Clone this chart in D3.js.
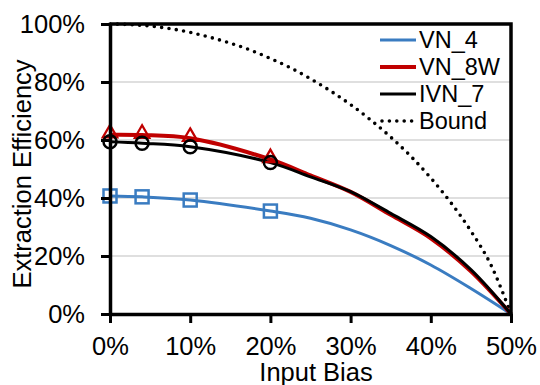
<!DOCTYPE html>
<html>
<head>
<meta charset="utf-8">
<script src="https://cdn.jsdelivr.net/npm/d3@7"></script>
<style>
    body { margin: 0; background: #fff; }
    svg { display: block; font-family: "Liberation Sans", Arial, sans-serif; }
    .axis text { font-size: 25.5px; fill: #000; }
    .axis .domain { stroke: #000; stroke-width: 3.5; }
    .axis .tick line { stroke: #000; stroke-width: 3; }
</style>
</head>
<body>
<script>
// input bias (x) for the curve points
var bias = [0, 0.04, 0.10, 0.20, 0.25, 0.30, 0.35, 0.40, 0.45, 0.50];
// only the first four points carry markers
var markerCount = 4;

var vn4 = [0.407, 0.404, 0.393, 0.355, 0.330, 0.290, 0.236, 0.169, 0.088, 0];
var vn8w = [0.618, 0.617, 0.606, 0.533, 0.478, 0.421, 0.342, 0.261, 0.147, 0];
var ivn7 = [0.594, 0.589, 0.577, 0.522, 0.473, 0.422, 0.347, 0.267, 0.153, 0];

// dotted upper bound
var boundBias = [0, 0.025, 0.05, 0.075, 0.10, 0.125, 0.15, 0.175, 0.20, 0.225, 0.25,
                 0.275, 0.30, 0.325, 0.35, 0.375, 0.40, 0.425, 0.45, 0.475, 0.50];
var bound = [1.0, 0.998, 0.993, 0.984, 0.971, 0.954, 0.934, 0.910, 0.881, 0.849, 0.811,
             0.769, 0.722, 0.669, 0.610, 0.544, 0.469, 0.384, 0.286, 0.169, 0];

var xTicks = [0, 0.1, 0.2, 0.3, 0.4, 0.5];
var yTicks = [0, 0.2, 0.4, 0.6, 0.8, 1.0];
var gridTicks = [0.2, 0.4, 0.6, 0.8];

var seriesNames = ["VN_4", "VN_8W", "IVN_7", "Bound"];
var seriesColors = ["#3a7cc1", "#c00000", "#000000", "#000000"];

window.onload = function () {
    drawChart();
};

function drawChart() {
    var width = 540,
        height = 385,
        left = 110, right = 511, top = 24, bottom = 314;

    var svg = d3.select("body")
        .append("svg")
        .attr("width", width)
        .attr("height", height);

    var x = d3.scaleLinear().domain([0, 0.5]).range([left, right]);
    var y = d3.scaleLinear().domain([0, 1]).range([bottom, top]);

    // gridlines
    svg.selectAll(".grid")
        .data(gridTicks)
        .enter()
        .append("line")
        .attr("x1", left)
        .attr("x2", right)
        .attr("y1", function(d) { return y(d); })
        .attr("y2", function(d) { return y(d); })
        .attr("stroke", "#d4d4d4")
        .attr("stroke-width", 1.5);

    // bound (dotted)
    var boundLine = d3.line()
        .x(function(d, i) { return x(boundBias[i]); })
        .y(function(d) { return y(d); })
        .curve(d3.curveMonotoneX);

    svg.append("path")
        .datum(bound)
        .attr("d", boundLine)
        .attr("fill", "none")
        .attr("stroke", "#000")
        .attr("stroke-width", 3.6)
        .attr("stroke-linecap", "round")
        .attr("stroke-dasharray", "0 7.4");

    var line = d3.line()
        .x(function(d, i) { return x(bias[i]); })
        .y(function(d) { return y(d); })
        .curve(d3.curveCatmullRom.alpha(0.5));

    var series = [vn4, vn8w, ivn7];
    var widths = [3, 4, 3];
    series.forEach(function(s, k) {
        svg.append("path")
            .datum(s)
            .attr("d", line)
            .attr("fill", "none")
            .attr("stroke", seriesColors[k])
            .attr("stroke-width", widths[k])
            .attr("stroke-linejoin", "round");
    });

    // markers
    var pts = d3.range(markerCount);
    svg.selectAll(".sq")
        .data(pts)
        .enter()
        .append("rect")
        .attr("x", function(i) { return x(bias[i]) - 6.5; })
        .attr("y", function(i) { return y(vn4[i]) - 6.5; })
        .attr("width", 13)
        .attr("height", 13)
        .attr("fill", "none")
        .attr("stroke", seriesColors[0])
        .attr("stroke-width", 2.5);

    svg.selectAll(".tri")
        .data(pts)
        .enter()
        .append("path")
        .attr("d", d3.symbol().type(d3.symbolTriangle).size(90))
        .attr("transform", function(i) { return "translate(" + x(bias[i]) + "," + (y(vn8w[i]) - 1.5) + ")"; })
        .attr("fill", "none")
        .attr("stroke", seriesColors[1])
        .attr("stroke-width", 2.3);

    svg.selectAll(".circ")
        .data(pts)
        .enter()
        .append("circle")
        .attr("cx", function(i) { return x(bias[i]); })
        .attr("cy", function(i) { return y(ivn7[i]); })
        .attr("r", 6.5)
        .attr("fill", "none")
        .attr("stroke", seriesColors[2])
        .attr("stroke-width", 2.5);

    // frame top & right
    svg.append("path")
        .attr("d", "M" + left + "," + top + "H" + right + "V" + bottom)
        .attr("fill", "none")
        .attr("stroke", "#000")
        .attr("stroke-width", 3.5);

    // axes
    svg.append("g")
        .attr("class", "axis")
        .attr("transform", "translate(" + left + ",0)")
        .call(d3.axisLeft(y)
            .tickValues(yTicks)
            .tickFormat(d3.format(".0%"))
            .tickSize(9)
            .tickSizeOuter(0)
            .tickPadding(16));

    svg.append("g")
        .attr("class", "axis")
        .attr("transform", "translate(0," + bottom + ")")
        .call(d3.axisBottom(x)
            .tickValues(xTicks)
            .tickFormat(d3.format(".0%"))
            .tickSize(9)
            .tickSizeOuter(0)
            .tickPadding(14));

    // axis titles
    svg.append("text")
        .attr("x", 316)
        .attr("y", 381)
        .attr("text-anchor", "middle")
        .attr("font-size", 25.5)
        .text("Input Bias");

    svg.append("text")
        .attr("transform", "translate(31,174) rotate(-90)")
        .attr("text-anchor", "middle")
        .attr("font-size", 25.5)
        .text("Extraction Efficiency");

    // legend
    var legend = svg.append("g")
        .selectAll("g")
        .data(seriesNames)
        .enter()
        .append("g")
        .attr("transform", function(d, i) { return "translate(380," + (40 + i * 27) + ")"; });

    legend.append("line")
        .attr("x1", function(d, i) { return i === 3 ? 2 : 0; })
        .attr("x2", 36)
        .attr("stroke", function(d, i) { return seriesColors[i]; })
        .attr("stroke-width", function(d, i) { return i === 3 ? 3.6 : widths[i]; })
        .attr("stroke-linecap", function(d, i) { return i === 3 ? "round" : "butt"; })
        .attr("stroke-dasharray", function(d, i) { return i === 3 ? "0 7.4" : null; });

    legend.append("text")
        .attr("x", 39)
        .attr("y", 8.3)
        .attr("font-size", 23.5)
        .text(function(d) { return d; });
}
</script>
</body>
</html>
